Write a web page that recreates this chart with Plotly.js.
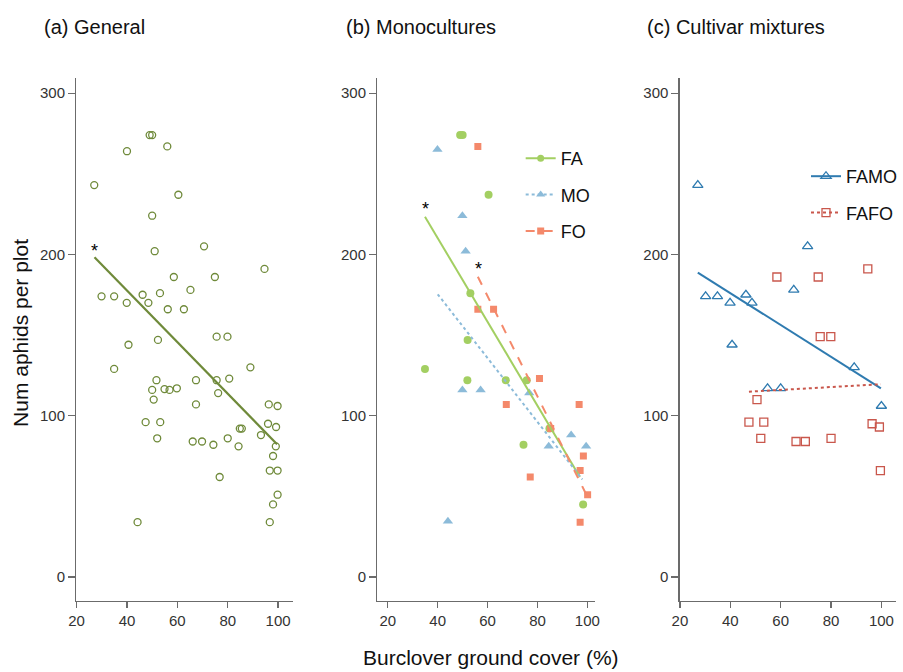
<!DOCTYPE html>
<html>
<head>
<meta charset="utf-8">
<script src="https://cdn.plot.ly/plotly-3.0.1.min.js"></script>
<style>html,body{margin:0;padding:0;background:#fff;}#chart{width:903px;height:672px;}</style>
</head>
<body>
<div id="chart"></div>
<script>
// ---------- Panel (a) General: all plots ----------
const genX = [27,40,49,50,56,60.4,50,51,70.6,94.6,58.6,74.9,65.2,29.9,34.9,39.9,46.2,48.5,53.1,56.2,62.6,40.6,52.3,75.6,79.9,
  34.9,89,51.7,67.4,75.6,80.6,50,54.9,56.9,59.8,50.6,76.2,67.4,96.3,99.8,47.4,53.2,96,99.2,84.8,85.6,93.2,52,66.1,69.8,74.3,80,84.3,99.1,98,96.7,99.8,76.8,99.8,98,44.2,96.7];
const genY = [243,264,274,274,267,237,224,202,205,191,186,186,178,174,174,170,175,170,176,166,166,144,147,149,149,
  129,130,122,122,122,123,116,116.5,116,117,110,114,107,107,106,96,96,95,93,92,92,88,86,84,84,82,86,81,81,75,66,66,62,51,45,34,34];
const genFitX = [27.1, 99.6];
const genFitY = [198.2, 82.3];

// ---------- Panel (b) Monocultures ----------
const faX = [49,50,60.4,53.1,52,34.9,51.9,67.3,75.7,74.4,98.3,84.8];
const faY = [274,274,237,176,147,129,122,122,122,82,45,92];
const faFitX = [34.9, 97];
const faFitY = [223.4, 62];

const moX = [39.9,49.9,51.2,49.9,57.2,76.7,93.5,84.5,99.5,44.1];
const moY = [265,224,202,116,116,114,88,81,81,34.5];
const moFitX = [40, 98];
const moFitY = [175.3, 60.5];

const foX = [56.1,56.1,62.4,80.8,67.5,96.7,85.3,98.4,97.1,77.1,100.1,97.1];
const foY = [267,166,166,123,107,107,92,75,66,62,51,34];
const foFitX = [56.1, 100];
const foFitY = [186.2, 49.8];

// ---------- Panel (c) Cultivar mixtures ----------
const famoX = [27.1,70.7,65.2,30.2,34.9,39.9,46.2,48.6,40.7,89.2,54.8,60,100];
const famoY = [243,205,178,174,174,170,175,170,144,130,117,117,106];
const famoFitX = [27.1, 99.8];
const famoFitY = [188.7, 117];

const fafoX = [94.6,58.5,74.9,75.7,79.9,50.6,47.4,53.3,52.1,66.1,69.8,80,96.3,99.2,99.6];
const fafoY = [191,186,186,149,149,110,96,96,86,84,84,86,95,93,66];
const fafoFitX = [47.4, 99.8];
const fafoFitY = [114.9, 119.5];

const panelTitles = ["(a) General", "(b) Monocultures", "(c) Cultivar mixtures"];
const xTitle = "Burclover ground cover (%)";
const yTitle = "Num aphids per plot";
const xTicks = [20, 40, 60, 80, 100];
const yTicks = [0, 100, 200, 300];

// ---------- styles ----------
const C = {gen:"#6f8a3a", fa:"#a3cf62", mo:"#8cbbd9", fo:"#f4896b", famo:"#2f7bb0", fafo:"#c9574c"};
const FONT = "Liberation Sans, Arial, Helvetica, sans-serif";

function pts(x, y, xa, ya, marker) {
  return {type:"scatter", mode:"markers", x:x, y:y, xaxis:xa, yaxis:ya,
    marker:marker, showlegend:false, hoverinfo:"x+y"};
}
function fit(x, y, xa, ya, line, name, marker, legend) {
  const t = {type:"scatter", x:x, y:y, xaxis:xa, yaxis:ya, line:line, hoverinfo:"skip",
    name:name, showlegend: !!name, legendgroup:name || undefined};
  if (name) {
    t.mode = "lines+markers";
    t.marker = marker;
    t.selectedpoints = [];
    t.unselected = {marker:{opacity:0}};
    t.legend = legend;
  } else {
    t.mode = "lines";
  }
  return t;
}

const data = [
  pts(genX, genY, "x", "y", {symbol:"circle-open", size:7, color:C.gen, line:{width:1.3}}),
  fit(genFitX, genFitY, "x", "y", {color:C.gen, width:2.2}),

  pts(faX, faY, "x2", "y2", {symbol:"circle", size:8, color:C.fa}),
  pts(moX, moY, "x2", "y2", {symbol:"triangle-up", size:9, color:C.mo}),
  pts(foX, foY, "x2", "y2", {symbol:"square", size:7, color:C.fo}),
  fit(faFitX, faFitY, "x2", "y2", {color:C.fa, width:2}, "FA", {symbol:"circle", size:7, color:C.fa}, "legend"),
  fit(moFitX, moFitY, "x2", "y2", {color:C.mo, width:2, dash:"dot"}, "MO", {symbol:"triangle-up", size:8, color:C.mo}, "legend"),
  fit(foFitX, foFitY, "x2", "y2", {color:C.fo, width:2, dash:"dash"}, "FO", {symbol:"square", size:7, color:C.fo}, "legend"),

  pts(famoX, famoY, "x3", "y3", {symbol:"triangle-up-open", size:9, color:C.famo, line:{width:1.3}}),
  pts(fafoX, fafoY, "x3", "y3", {symbol:"square-open", size:8, color:C.fafo, line:{width:1.3}}),
  fit(famoFitX, famoFitY, "x3", "y3", {color:C.famo, width:2}, "FAMO", {symbol:"triangle-up-open", size:9, color:C.famo, line:{width:1.3}}, "legend2"),
  fit(fafoFitX, fafoFitY, "x3", "y3", {color:C.fafo, width:2, dash:"dot"}, "FAFO", {symbol:"square-open", size:8, color:C.fafo, line:{width:1.3}}, "legend2")
];

const W = 903, H = 672;
const yDom = [1 - 601/H, 1 - 78/H];
const yRange = [-14.9, 309.4];

function xax(dom, range) {
  return {domain:dom, range:range, tickvals:xTicks, ticks:"outside", ticklen:6, tickwidth:1.3,
    tickcolor:"#6b6b6b", showline:true, linecolor:"#6b6b6b", linewidth:1.3, showgrid:false,
    zeroline:false, tickfont:{size:15, color:"#333", family:FONT}, fixedrange:true};
}
function yax(anchor) {
  return {domain:yDom, range:yRange, anchor:anchor, tickvals:yTicks, ticks:"outside", ticklen:7,
    tickwidth:1.3, tickcolor:"#6b6b6b", showline:true, linecolor:"#6b6b6b", linewidth:1.3,
    showgrid:false, zeroline:false, tickfont:{size:15, color:"#333", family:FONT}, fixedrange:true};
}

const titleFont = {size:20, color:"#111", family:FONT};
const axTitleFont = {size:21, color:"#111", family:FONT};
const starFont = {size:18, color:"#000", family:FONT};
const annotations = [
  {text:panelTitles[0], xref:"paper", yref:"paper", x:42/W, y:1-27/H, xanchor:"left", yanchor:"middle", showarrow:false, font:titleFont},
  {text:panelTitles[1], xref:"paper", yref:"paper", x:346/W, y:1-27/H, xanchor:"left", yanchor:"middle", showarrow:false, font:titleFont},
  {text:panelTitles[2], xref:"paper", yref:"paper", x:648/W, y:1-27/H, xanchor:"left", yanchor:"middle", showarrow:false, font:titleFont},
  {text:xTitle, xref:"paper", yref:"paper", x:493/W, y:1-657/H, xanchor:"center", yanchor:"middle", showarrow:false, font:axTitleFont},
  {text:yTitle, xref:"paper", yref:"paper", x:20/W, y:1-333/H, xanchor:"center", yanchor:"middle", textangle:-90, showarrow:false, font:axTitleFont},
  {text:"*", xref:"x", yref:"y", x:genFitX[0], y:genFitY[0], yshift:6, xanchor:"center", yanchor:"middle", showarrow:false, font:starFont},
  {text:"*", xref:"x2", yref:"y2", x:faFitX[0], y:faFitY[0], yshift:8, xshift:1, xanchor:"center", yanchor:"middle", showarrow:false, font:starFont},
  {text:"*", xref:"x2", yref:"y2", x:foFitX[0], y:foFitY[0], yshift:8, xshift:1, xanchor:"center", yanchor:"middle", showarrow:false, font:starFont}
];

const legendBase = {bgcolor:"rgba(0,0,0,0)", borderwidth:0, font:{size:18, color:"#111", family:FONT},
  tracegroupgap:10, traceorder:"grouped", xanchor:"left", yanchor:"top", itemclick:false, itemdoubleclick:false};

const layout = {
  width:W, height:H, margin:{l:0, r:0, t:0, b:0}, paper_bgcolor:"#fff", plot_bgcolor:"rgba(0,0,0,0)",
  font:{family:FONT},
  xaxis:xax([76.7/W, 294/W], [19.9, 105.8]),
  yaxis:yax("x"),
  xaxis2:xax([379/W, 598/W], [15.8, 103.2]),
  yaxis2:yax("x2"),
  xaxis3:xax([682.7/W, 900/W], [19.9, 105.8]),
  yaxis3:yax("x3"),
  legend:Object.assign({}, legendBase, {x:523/W, y:1-140/H}),
  legend2:Object.assign({}, legendBase, {x:810/W, y:1-158/H}),
  annotations:annotations,
  showlegend:true
};

Plotly.newPlot("chart", data, layout, {displayModeBar:false, staticPlot:true});
</script>
</body>
</html>
